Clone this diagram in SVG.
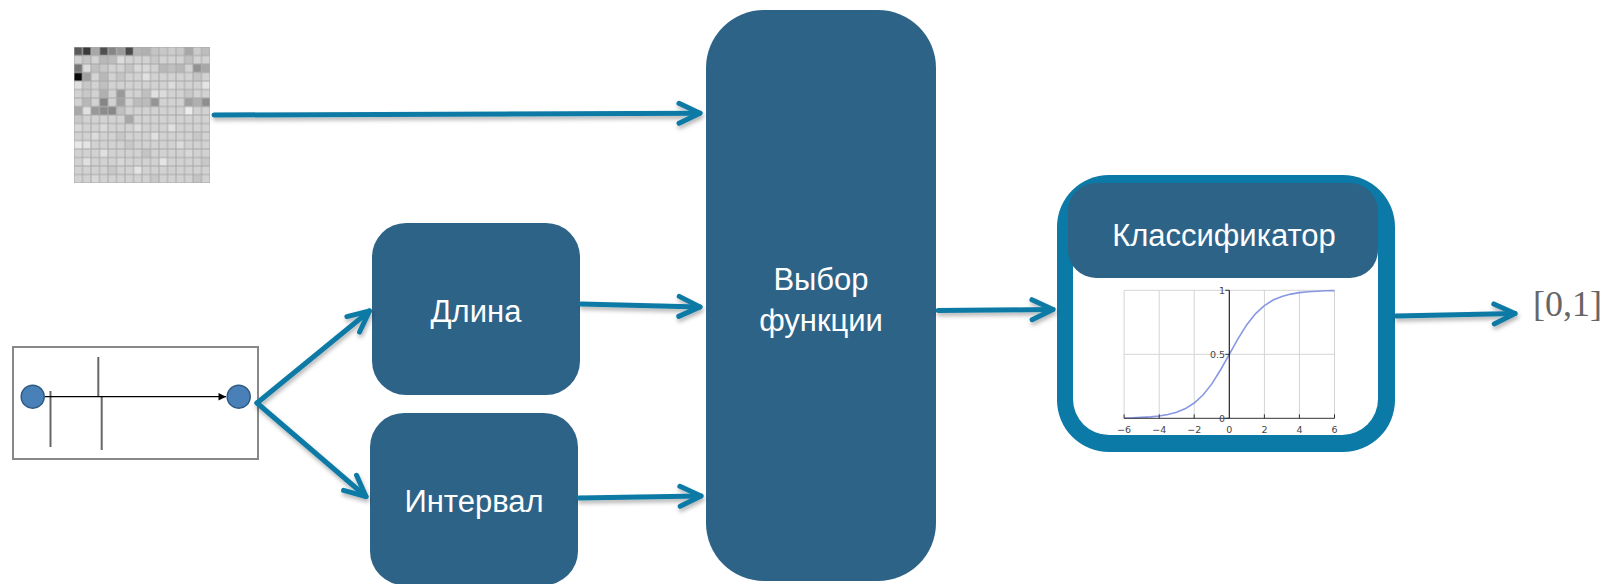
<svg xmlns="http://www.w3.org/2000/svg" width="1607" height="584" viewBox="0 0 1607 584">
  <style>
    .box { fill: #2e6388; }
    .lbl { font-family: "Liberation Sans", Arial, sans-serif; font-size: 31px; fill: #ffffff; text-anchor: middle; }
    .flow { fill: none; stroke: #0c7aa6; stroke-width: 5; stroke-linecap: round; stroke-linejoin: round; }
    .grid { stroke: #d4d4d4; stroke-width: 1; fill: none; }
    .tick { font-family: "DejaVu Sans", sans-serif; font-size: 9.5px; fill: #444; }
  </style>
  <defs>
    <marker id="head" markerUnits="userSpaceOnUse" markerWidth="40" markerHeight="40" refX="0" refY="0" viewBox="-30 -20 40 40" orient="auto" overflow="visible">
      <path d="M -21 -10 L 0 0 L -21 10" fill="none" stroke="#0c7aa6" stroke-width="5" stroke-linecap="round" stroke-linejoin="round"/>
    </marker>
    <marker id="tiny" markerUnits="userSpaceOnUse" markerWidth="10" markerHeight="10" refX="0" refY="0" viewBox="-6 -4 8 8" orient="auto" overflow="visible">
      <path d="M -6 -3 L 0 0 L -6 3 Z" fill="#000"/>
    </marker>
    <filter id="shade" x="-10%" y="-50%" width="120%" height="200%">
      <feDropShadow dx="1" dy="3" stdDeviation="2" flood-color="#000" flood-opacity="0.3"/>
    </filter>
    <pattern id="cells" x="74" y="47" width="8.5" height="8.5" patternUnits="userSpaceOnUse">
      <rect x="0" y="0" width="8.5" height="8.5" fill="none" stroke="#a9a9a9" stroke-width="1"/>
    </pattern>
  </defs>

  <!-- Feature matrix (16 x 16 grey cells) -->
  <g id="matrix">
    <rect x="74" y="47" width="136" height="136" fill="#d2d2d2"/>
    <g transform="translate(74 47) scale(8.5)">
      <!-- row 0 -->
      <rect x="0" y="0" width="1" height="1" fill="#5a5a5a"/>
      <rect x="1" y="0" width="1" height="1" fill="#3a3a3a"/>
      <rect x="2" y="0" width="1" height="1" fill="#a8a8a8"/>
      <rect x="3" y="0" width="1" height="1" fill="#505050"/>
      <rect x="4" y="0" width="1" height="1" fill="#858585"/>
      <rect x="5" y="0" width="1" height="1" fill="#9a9a9a"/>
      <rect x="6" y="0" width="1" height="1" fill="#4a4a4a"/>
      <rect x="7" y="0" width="1" height="1" fill="#b4b4b4"/>
      <rect x="8" y="0" width="1" height="1" fill="#b0b0b0"/>
      <rect x="9" y="0" width="1" height="1" fill="#c4c4c4"/>
      <rect x="10" y="0" width="1" height="1" fill="#c8c8c8"/>
      <rect x="11" y="0" width="1" height="1" fill="#cccccc"/>
      <rect x="12" y="0" width="1" height="1" fill="#c8c8c8"/>
      <rect x="13" y="0" width="1" height="1" fill="#a8a8a8"/>
      <rect x="14" y="0" width="1" height="1" fill="#cccccc"/>
      <rect x="15" y="0" width="1" height="1" fill="#bdbdbd"/>
      <!-- row 1 -->
      <rect x="1" y="1" width="1" height="1" fill="#c4c4c4"/>
      <rect x="3" y="1" width="1" height="1" fill="#b8b8b8"/>
      <rect x="4" y="1" width="1" height="1" fill="#bcbcbc"/>
      <rect x="5" y="1" width="1" height="1" fill="#dcdcdc"/>
      <rect x="9" y="1" width="1" height="1" fill="#c8c8c8"/>
      <rect x="13" y="1" width="1" height="1" fill="#c0c0c0"/>
      <!-- row 2 -->
      <rect x="0" y="2" width="1" height="1" fill="#777777"/>
      <rect x="1" y="2" width="1" height="1" fill="#dcdcdc"/>
      <rect x="2" y="2" width="1" height="1" fill="#c0c0c0"/>
      <rect x="3" y="2" width="1" height="1" fill="#c8c8c8"/>
      <rect x="6" y="2" width="1" height="1" fill="#c4c4c4"/>
      <rect x="7" y="2" width="1" height="1" fill="#d8d8d8"/>
      <rect x="8" y="2" width="1" height="1" fill="#d8d8d8"/>
      <rect x="10" y="2" width="1" height="1" fill="#b8b8b8"/>
      <rect x="11" y="2" width="1" height="1" fill="#c0c0c0"/>
      <rect x="12" y="2" width="1" height="1" fill="#b8b8b8"/>
      <rect x="14" y="2" width="1" height="1" fill="#939393"/>
      <rect x="15" y="2" width="1" height="1" fill="#a8a8a8"/>
      <!-- row 3 -->
      <rect x="0" y="3" width="1" height="1" fill="#0a0a0a"/>
      <rect x="1" y="3" width="1" height="1" fill="#a0a0a0"/>
      <rect x="2" y="3" width="1" height="1" fill="#d4d4d4"/>
      <rect x="3" y="3" width="1" height="1" fill="#b8b8b8"/>
      <rect x="5" y="3" width="1" height="1" fill="#c4c4c4"/>
      <rect x="8" y="3" width="1" height="1" fill="#e0e0e0"/>
      <rect x="14" y="3" width="1" height="1" fill="#c4c4c4"/>
      <!-- row 4 -->
      <rect x="0" y="4" width="1" height="1" fill="#e0e0e0"/>
      <rect x="1" y="4" width="1" height="1" fill="#c8c8c8"/>
      <rect x="3" y="4" width="1" height="1" fill="#c0c0c0"/>
      <rect x="11" y="4" width="1" height="1" fill="#dcdcdc"/>
      <rect x="15" y="4" width="1" height="1" fill="#e4e4e4"/>
      <!-- row 5 -->
      <rect x="1" y="5" width="1" height="1" fill="#c8c8c8"/>
      <rect x="3" y="5" width="1" height="1" fill="#b0b0b0"/>
      <rect x="5" y="5" width="1" height="1" fill="#999999"/>
      <rect x="8" y="5" width="1" height="1" fill="#c0c0c0"/>
      <rect x="9" y="5" width="1" height="1" fill="#e0e0e0"/>
      <rect x="10" y="5" width="1" height="1" fill="#dcdcdc"/>
      <rect x="13" y="5" width="1" height="1" fill="#c8c8c8"/>
      <!-- row 6 -->
      <rect x="1" y="6" width="1" height="1" fill="#b8b8b8"/>
      <rect x="3" y="6" width="1" height="1" fill="#858585"/>
      <rect x="5" y="6" width="1" height="1" fill="#a0a0a0"/>
      <rect x="7" y="6" width="1" height="1" fill="#bcbcbc"/>
      <rect x="8" y="6" width="1" height="1" fill="#bcbcbc"/>
      <rect x="9" y="6" width="1" height="1" fill="#959595"/>
      <rect x="13" y="6" width="1" height="1" fill="#a0a0a0"/>
      <rect x="14" y="6" width="1" height="1" fill="#b0b0b0"/>
      <rect x="15" y="6" width="1" height="1" fill="#8e8e8e"/>
      <!-- row 7 -->
      <rect x="0" y="7" width="1" height="1" fill="#a8a8a8"/>
      <rect x="1" y="7" width="1" height="1" fill="#e0e0e0"/>
      <rect x="2" y="7" width="1" height="1" fill="#999999"/>
      <rect x="3" y="7" width="1" height="1" fill="#8c8c8c"/>
      <rect x="4" y="7" width="1" height="1" fill="#888888"/>
      <rect x="5" y="7" width="1" height="1" fill="#c0c0c0"/>
      <rect x="13" y="7" width="1" height="1" fill="#ececec"/>
      <!-- row 8 -->
      <rect x="0" y="8" width="1" height="1" fill="#c8c8c8"/>
      <rect x="6" y="8" width="1" height="1" fill="#a8a8a8"/>
      <!-- rows 9-15 -->
      <rect x="0" y="9" width="1" height="1" fill="#d8d8d8"/>
      <rect x="3" y="9" width="1" height="1" fill="#dadada"/>
      <rect x="7" y="9" width="1" height="1" fill="#dcdcdc"/>
      <rect x="11" y="9" width="1" height="1" fill="#e0e0e0"/>
      <rect x="2" y="10" width="1" height="1" fill="#dcdcdc"/>
      <rect x="5" y="10" width="1" height="1" fill="#c8c8c8"/>
      <rect x="9" y="10" width="1" height="1" fill="#e0e0e0"/>
      <rect x="14" y="10" width="1" height="1" fill="#c8c8c8"/>
      <rect x="0" y="11" width="1" height="1" fill="#e8e8e8"/>
      <rect x="1" y="11" width="1" height="1" fill="#e4e4e4"/>
      <rect x="6" y="11" width="1" height="1" fill="#c8c8c8"/>
      <rect x="12" y="11" width="1" height="1" fill="#dcdcdc"/>
      <rect x="3" y="12" width="1" height="1" fill="#e0e0e0"/>
      <rect x="8" y="12" width="1" height="1" fill="#c4c4c4"/>
      <rect x="13" y="12" width="1" height="1" fill="#d8d8d8"/>
      <rect x="1" y="13" width="1" height="1" fill="#e0e0e0"/>
      <rect x="5" y="13" width="1" height="1" fill="#d8d8d8"/>
      <rect x="10" y="13" width="1" height="1" fill="#e4e4e4"/>
      <rect x="15" y="13" width="1" height="1" fill="#c8c8c8"/>
      <rect x="4" y="14" width="1" height="1" fill="#c8c8c8"/>
      <rect x="7" y="14" width="1" height="1" fill="#e4e4e4"/>
      <rect x="11" y="14" width="1" height="1" fill="#d0d0d0"/>
      <rect x="2" y="15" width="1" height="1" fill="#d8d8d8"/>
      <rect x="9" y="15" width="1" height="1" fill="#c8c8c8"/>
      <rect x="14" y="15" width="1" height="1" fill="#c4c4c4"/>
    </g>
    <rect x="74" y="47" width="136" height="136" fill="url(#cells)"/>
  </g>

  <!-- Time-line sketch: two events and interval marks -->
  <g id="timeline">
    <rect x="13" y="347" width="245" height="112" fill="#ffffff" stroke="#888888" stroke-width="2"/>
    <line x1="50.5" y1="391" x2="50.5" y2="447" stroke="#666" stroke-width="2"/>
    <line x1="98.3" y1="357" x2="98.3" y2="396" stroke="#666" stroke-width="2"/>
    <line x1="101.7" y1="396" x2="101.7" y2="450" stroke="#666" stroke-width="2"/>
    <line x1="45" y1="396.7" x2="226" y2="396.7" stroke="#000" stroke-width="1.3" marker-end="url(#tiny)"/>
    <circle cx="32.7" cy="396.7" r="11.5" fill="#4a80b8" stroke="#2f5a80" stroke-width="1.5"/>
    <circle cx="238.7" cy="396.7" r="11.5" fill="#4a80b8" stroke="#2f5a80" stroke-width="1.5"/>
  </g>

  <g id="length">
    <rect class="box" x="372" y="223" width="208" height="172" rx="34"/>
    <text class="lbl" x="476" y="322">Длина</text>
  </g>

  <g id="interval">
    <rect class="box" x="370" y="413" width="208" height="172" rx="34"/>
    <text class="lbl" x="474" y="512">Интервал</text>
  </g>

  <g id="select">
    <rect class="box" x="706" y="10" width="230" height="571" rx="58"/>
    <text class="lbl" x="821" y="290">Выбор</text>
    <text class="lbl" x="821" y="331">функции</text>
  </g>

  <g id="classifier">
    <rect x="1057" y="175" width="338" height="277" rx="52" fill="#0c7aa6"/>
    <rect x="1073" y="191" width="305" height="244" rx="36" fill="#ffffff"/>
    <rect class="box" x="1068" y="183" width="310" height="95" rx="28"/>
    <text class="lbl" x="1224" y="246">Классификатор</text>
    <!-- logistic curve plot -->
    <g id="sigmoid">
      <line class="grid" x1="1124.1" y1="290.3" x2="1124.1" y2="418.3"/>
      <line class="grid" x1="1159.2" y1="290.3" x2="1159.2" y2="418.3"/>
      <line class="grid" x1="1194.2" y1="290.3" x2="1194.2" y2="418.3"/>
      <line class="grid" x1="1264.4" y1="290.3" x2="1264.4" y2="418.3"/>
      <line class="grid" x1="1299.4" y1="290.3" x2="1299.4" y2="418.3"/>
      <line class="grid" x1="1334.5" y1="290.3" x2="1334.5" y2="418.3"/>
      <line class="grid" x1="1124.1" y1="290.3" x2="1334.5" y2="290.3"/>
      <line class="grid" x1="1124.1" y1="354.3" x2="1334.5" y2="354.3"/>
      <polyline fill="none" stroke="#8797e3" stroke-width="1.6" points="1124.1,418 1132.9,417.8 1141.7,417.4 1150.4,416.9 1159.2,416 1167.9,414.5 1176.7,412.2 1185.5,408.6 1194.2,403 1203,395 1211.8,383.9 1220.5,370 1229.3,354.3 1238.1,338.6 1246.8,324.7 1255.6,313.6 1264.4,305.6 1273.1,300 1281.9,296.4 1290.7,294.1 1299.4,292.6 1308.2,291.7 1317,291.2 1325.8,290.8 1334.5,290.6"/>
      <line x1="1124.1" y1="418.3" x2="1334.5" y2="418.3" stroke="#333" stroke-width="1"/>
      <line x1="1229.3" y1="290.3" x2="1229.3" y2="418.3" stroke="#111" stroke-width="1.1"/>
      <g stroke="#333" stroke-width="1">
        <line x1="1124.1" y1="414.3" x2="1124.1" y2="418.3"/>
        <line x1="1159.2" y1="414.3" x2="1159.2" y2="418.3"/>
        <line x1="1194.2" y1="414.3" x2="1194.2" y2="418.3"/>
        <line x1="1264.4" y1="414.3" x2="1264.4" y2="418.3"/>
        <line x1="1299.4" y1="414.3" x2="1299.4" y2="418.3"/>
        <line x1="1334.5" y1="414.3" x2="1334.5" y2="418.3"/>
        <line x1="1225.3" y1="290.3" x2="1229.3" y2="290.3"/>
        <line x1="1225.3" y1="354.3" x2="1229.3" y2="354.3"/>
        <line x1="1225.3" y1="418.3" x2="1229.3" y2="418.3"/>
      </g>
      <g class="tick" text-anchor="middle">
        <text x="1124.1" y="433">−6</text>
        <text x="1159.2" y="433">−4</text>
        <text x="1194.2" y="433">−2</text>
        <text x="1229.3" y="433">0</text>
        <text x="1264.4" y="433">2</text>
        <text x="1299.4" y="433">4</text>
        <text x="1334.5" y="433">6</text>
      </g>
      <g class="tick" text-anchor="end">
        <text x="1225" y="293.5">1</text>
        <text x="1225" y="357.5">0.5</text>
        <text x="1225" y="421.5">0</text>
      </g>
    </g>
  </g>

  <g id="output">
    <text x="1533" y="316" font-family="Liberation Serif, 'Times New Roman', serif" font-size="36" fill="#666666">[0,1]</text>
  </g>

  <!-- connectors -->
  <g id="connectors" filter="url(#shade)">
    <path class="flow" d="M 214 115 L 700 113.2" marker-end="url(#head)"/>
    <path class="flow" d="M 581 304 L 700 306.9" marker-end="url(#head)"/>
    <path class="flow" d="M 579 498 L 701 496" marker-end="url(#head)"/>
    <path class="flow" d="M 257 403 L 369.5 311" marker-end="url(#head)"/>
    <path class="flow" d="M 257 403 L 366 496.5" marker-end="url(#head)"/>
    <path class="flow" d="M 938 310.5 L 1053 309.5" marker-end="url(#head)"/>
    <path class="flow" d="M 1396 316 L 1515 313.5" marker-end="url(#head)"/>
  </g>
</svg>
